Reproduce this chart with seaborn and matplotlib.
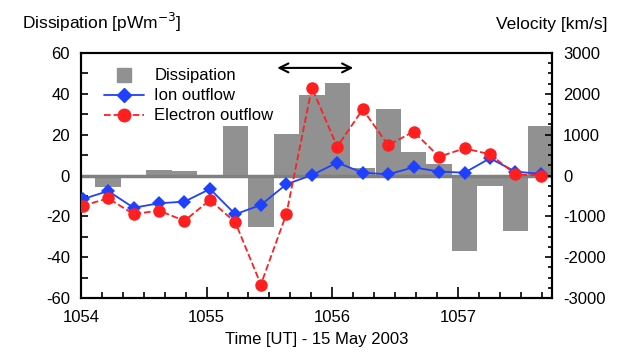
import numpy as np
import pandas as pd
import matplotlib
matplotlib.use("Agg")
import matplotlib.pyplot as plt
import seaborn as sns
from matplotlib.lines import Line2D
from matplotlib.ticker import MultipleLocator

# time in minutes past 10:00 UT (hhmm style axis), ~12 s resolution
TIME = [1054.013, 1054.216, 1054.419, 1054.621, 1054.824, 1055.027, 1055.229,
        1055.432, 1055.635, 1055.838, 1056.040, 1056.243, 1056.446, 1056.648,
        1056.851, 1057.054, 1057.256, 1057.459, 1057.662]
DISSIPATION = [0.0, -5.6, 0.0, 2.5, 2.0, 0.0, 24.4, -25.0, 20.4, 39.5, 45.2,
               3.6, 32.4, 11.3, 5.7, -37.0, -4.9, -27.0, 24.4]
ION_OUTFLOW = [-580, -380, -790, -680, -640, -330, -950, -720, -215, 10,
               315, 70, 30, 200, 95, 70, 420, 95, 40]
ELECTRON_OUTFLOW = [-740, -560, -945, -860, -1110, -600, -1150, -2670, -945,
                    2150, 705, 1620, 740, 1075, 460, 665, 520, 30, 0]

BAR_COLOR = "#919191"
ION_COLOR = "#2040ff"
ELEC_COLOR = "#ff1f1f"

sns.set_theme(style="ticks")
plt.rcParams["font.family"] = ["Liberation Sans", "DejaVu Sans"]
plt.rcParams.update({
    "font.size": 11.5,
    "axes.unicode_minus": False,
    "text.color": "black",
    "xtick.color": "black",
    "ytick.color": "black",
    "axes.labelcolor": "black",
})

df = pd.DataFrame({"time": TIME, "diss": DISSIPATION,
                   "ion": ION_OUTFLOW, "elec": ELECTRON_OUTFLOW})

fig = plt.figure(figsize=(6.23, 3.6), dpi=100)
ax = fig.add_axes([81 / 623, 1 - 298 / 360, (552 - 81) / 623, (298 - 53) / 360])

sns.barplot(data=df, x="time", y="diss", native_scale=True, width=1.0,
            color=BAR_COLOR, saturation=1, errorbar=None, ax=ax,
            linewidth=0, zorder=1)
ax.axhline(0, color="#808080", lw=2.5, zorder=2)

ax.set_xlim(1054, 1057.75)
ax.set_ylim(-60, 60)
ax.yaxis.set_major_locator(MultipleLocator(20))
ax.yaxis.set_minor_locator(MultipleLocator(10))
ax.xaxis.set_major_locator(MultipleLocator(1))
ax.xaxis.set_minor_locator(MultipleLocator(1 / 6))
ax.xaxis.set_major_formatter(plt.FuncFormatter(lambda v, p: f"{v:.0f}"))
ax.set_ylabel("")
ax.set_xlabel("Time [UT] - 15 May 2003", fontsize=12, labelpad=5)

ax.annotate("", xy=(1056.19, 52.7), xytext=(1055.54, 52.7),
            arrowprops=dict(arrowstyle="<->", lw=1.5, color="black",
                            mutation_scale=16))

ax2 = ax.twinx()
sns.lineplot(data=df, x="time", y="ion", color=ION_COLOR, marker="D",
             markersize=7, markeredgewidth=0, lw=1.3, ax=ax2, zorder=3)
sns.lineplot(data=df, x="time", y="elec", color=ELEC_COLOR, marker="o",
             markersize=9, markeredgewidth=0, lw=1.3, linestyle="--",
             ax=ax2, zorder=4)
ax2.set_ylim(-3000, 3000)
ax2.yaxis.set_major_locator(MultipleLocator(1000))
ax2.yaxis.set_minor_locator(MultipleLocator(250))
ax2.set_ylabel("")
ax2.set_xlim(1054, 1057.75)

for a in (ax, ax2):
    for s in a.spines.values():
        s.set_linewidth(1.5)
        s.set_color("black")
        s.set_visible(True)

ax.tick_params(axis="both", which="both", direction="in", labelsize=12,
               color="black", width=1.2)
ax.tick_params(axis="y", which="both", length=5, pad=8, right=False)
ax.tick_params(axis="x", which="major", length=8, pad=9, top=False)
ax.tick_params(axis="x", which="minor", length=4, top=False)
ax2.tick_params(axis="y", which="both", direction="in", labelsize=12,
                color="black", width=1.2, pad=8)
ax2.tick_params(axis="y", which="major", length=5)
ax2.tick_params(axis="y", which="minor", length=3)

handles = [
    Line2D([], [], marker="s", linestyle="none", color=BAR_COLOR, markersize=10),
    Line2D([], [], marker="D", color=ION_COLOR, lw=1.3, markersize=7),
    Line2D([], [], marker="o", color=ELEC_COLOR, lw=1.3, ls="--", markersize=9),
]
ax2.legend(handles, ["Dissipation", "Ion outflow", "Electron outflow"],
           loc="upper left", bbox_to_anchor=(0.025, 0.985), frameon=False,
           fontsize=12, handlelength=2.4, handletextpad=0.6,
           labelspacing=0.3, borderaxespad=0.3)

fig.text(22 / 623, 1 - 29 / 360, "Dissipation [pWm$^{-3}$]", fontsize=12.5,
         ha="left", va="baseline")
fig.text(608 / 623, 1 - 29 / 360, "Velocity [km/s]", fontsize=12.5,
         ha="right", va="baseline")

fig.savefig("out.png", dpi=100)
plt.close(fig)
